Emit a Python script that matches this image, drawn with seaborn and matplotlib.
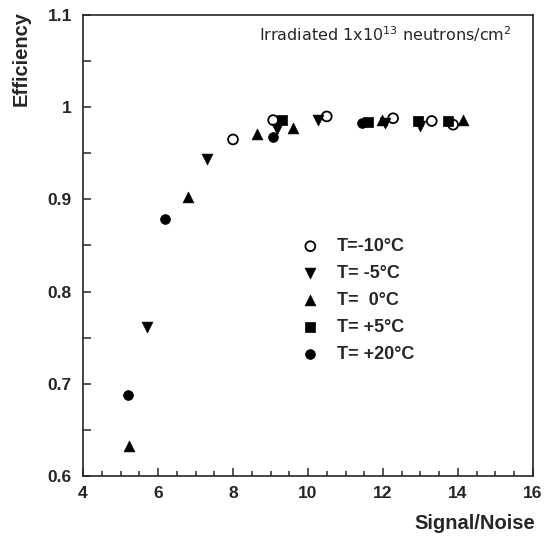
import matplotlib
matplotlib.use("Agg")
import matplotlib.pyplot as plt
import seaborn as sns
import pandas as pd
from matplotlib.ticker import MultipleLocator, FormatStrFormatter

# Signal/noise and efficiency per temperature setting
sn_m10 = [8.0, 9.07, 10.5, 12.27, 13.3, 13.87]
eff_m10 = [0.965, 0.986, 0.990, 0.988, 0.985, 0.981]

sn_m5 = [5.7, 7.3, 9.17, 10.27, 12.05, 13.0]
eff_m5 = [0.762, 0.944, 0.976, 0.986, 0.983, 0.980]

sn_0 = [5.23, 6.8, 8.64, 9.6, 11.97, 14.13]
eff_0 = [0.633, 0.903, 0.971, 0.977, 0.986, 0.986]

sn_p5 = [9.3, 11.6, 12.93, 13.73]
eff_p5 = [0.986, 0.984, 0.985, 0.985]

sn_p20 = [5.2, 6.19, 9.07, 11.44]
eff_p20 = [0.688, 0.879, 0.968, 0.983]

labels = ["T=-10°C", "T= -5°C", "T=  0°C", "T= +5°C", "T= +20°C"]

sns.set_style("ticks")
plt.rcParams["font.family"] = ["Liberation Sans", "DejaVu Sans"]

fig = plt.figure(figsize=(5.48, 5.39), dpi=100)
ax = fig.add_axes([0.1515, 0.1169, 0.8211, 0.8553])

series = [
    (sn_m10, eff_m10, "o", labels[0], True),
    (sn_m5, eff_m5, "v", labels[1], False),
    (sn_0, eff_0, "^", labels[2], False),
    (sn_p5, eff_p5, "s", labels[3], False),
    (sn_p20, eff_p20, "o", labels[4], False),
]

for xs, ys, mk, lab, hollow in series:
    df = pd.DataFrame({"sn": xs, "eff": ys})
    size = 60 if mk in ("v", "^") else 50
    if hollow:
        sns.scatterplot(data=df, x="sn", y="eff", marker=mk, s=size, ax=ax,
                        facecolor="none", edgecolor="black", linewidth=1.3,
                        label=lab, zorder=4)
    else:
        sns.scatterplot(data=df, x="sn", y="eff", marker=mk, s=size, ax=ax,
                        color="black", edgecolor="black", linewidth=0.5,
                        label=lab, zorder=3)

ax.set_xlim(4, 16)
ax.set_ylim(0.6, 1.1)
ax.xaxis.set_major_locator(MultipleLocator(2))
ax.xaxis.set_minor_locator(MultipleLocator(0.5))
ax.yaxis.set_major_locator(MultipleLocator(0.1))
ax.yaxis.set_minor_locator(MultipleLocator(0.05))
ax.yaxis.set_major_formatter(FormatStrFormatter("%g"))
ax.xaxis.set_major_formatter(FormatStrFormatter("%g"))

ax.tick_params(axis="both", which="both", direction="in", width=1.1,
               top=False, right=False)
ax.tick_params(axis="x", which="major", length=6, labelsize=12.5, pad=7)
ax.tick_params(axis="x", which="minor", length=3.5)
ax.tick_params(axis="y", which="both", length=6, labelsize=12.5, pad=8)
for lbl in ax.get_xticklabels() + ax.get_yticklabels():
    lbl.set_fontweight("bold")
for sp in ax.spines.values():
    sp.set_visible(True)
    sp.set_linewidth(1.2)

ax.set_xlabel("")
ax.set_ylabel("")
fig.text(0.977, 0.028, "Signal/Noise", ha="right", va="center",
         fontsize=14.5, fontweight="bold")
fig.text(0.038, 0.98, "Efficiency", ha="center", va="top", rotation=90,
         fontsize=14.5, fontweight="bold")

ax.text(0.953, 0.9436, r"Irradiated 1x10$^{13}$ neutrons/cm$^{2}$",
        transform=ax.transAxes, ha="right", va="baseline", fontsize=11.5,
        family="DejaVu Sans")

leg = ax.legend(loc="upper left", bbox_to_anchor=(0.449, 0.532), frameon=False,
                handletextpad=0.45, labelspacing=0.55, borderaxespad=0,
                prop={"weight": "bold", "size": 13}, markerscale=1.0)

fig.savefig("out.png", dpi=100)
